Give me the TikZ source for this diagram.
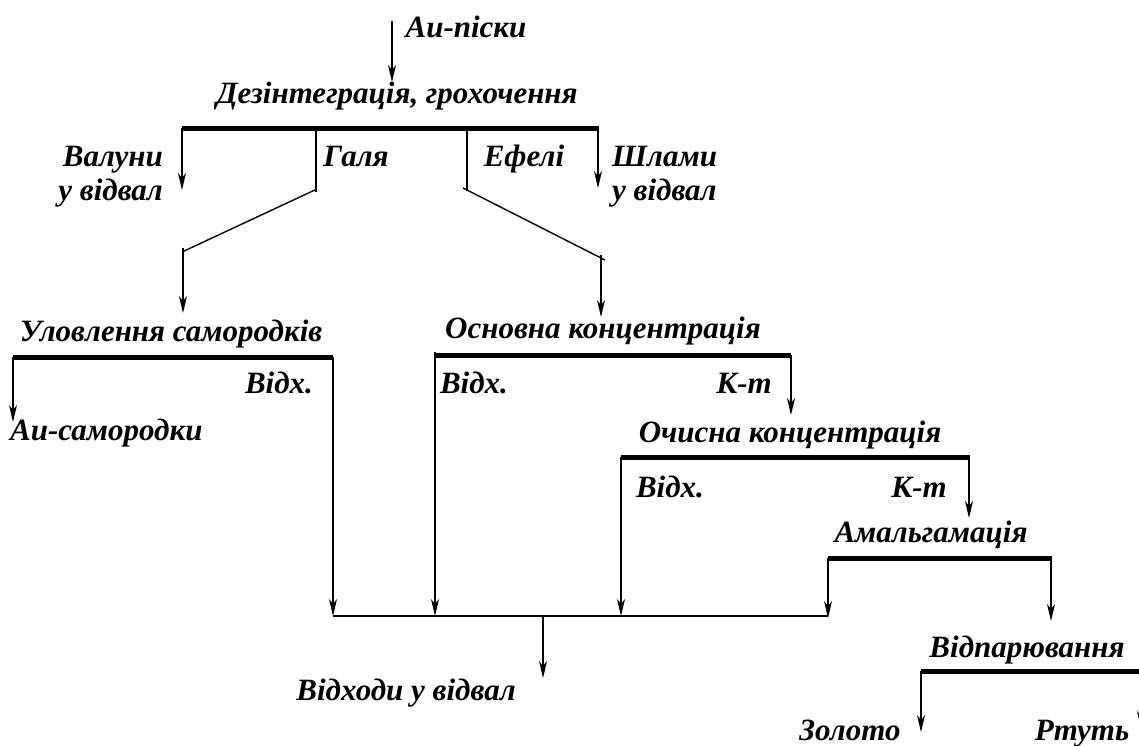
\documentclass[tikz,border=0pt]{standalone}
\usepackage{fontspec}
\setmainfont{Liberation Serif}
\usetikzlibrary{arrows.meta}
\begin{document}
\begin{tikzpicture}[x=1pt,y=-1pt,
  lbl/.style={font=\fontsize{31}{34}\selectfont\bfseries\itshape, inner sep=0pt, anchor=base},
  lblw/.style={lbl, anchor=base west},
  lble/.style={lbl, anchor=base east},
  bar/.style={line width=5pt},
  flow/.style={line width=1.4pt},
  arr/.style={flow,-{Stealth[length=17pt,width=8pt,inset=5pt]}}]
\useasboundingbox (0,0) rectangle (1139,745);

% ---- labels ----
\node[lbl] (feed) at (466,37) {Au-піски};
\node[lbl] (dez) at (397,103) {Дезінтеграція, грохочення};
\node[lble] (val1) at (163,166) {Валуни};
\node[lble] (val2) at (163,200) {у відвал};
\node[lbl] (galia) at (356,166) {Галя};
\node[lbl] (efeli) at (524,166) {Ефелі};
\node[lblw] (shl1) at (612,166) {Шлами};
\node[lblw] (shl2) at (612,200) {у відвал};
\node[lbl] (ulov) at (171,341) {Уловлення самородків};
\node[lbl] (vidh1) at (279,393) {Відх.};
\node[lblw] (nuggets) at (10,440) {Au-самородки};
\node[lbl] (osn) at (603,338) {Основна концентрація};
\node[lbl] (vidh2) at (474,393) {Відх.};
\node[lbl] (kt1) at (744,393) {К-т};
\node[lbl] (och) at (790,442) {Очисна концентрація};
\node[lbl] (vidh3) at (670,497) {Відх.};
\node[lbl] (kt2) at (919,497) {К-т};
\node[lbl] (amal) at (931,542) {Амальгамація};
\node[lbl] (tails) at (406,700) {Відходи у відвал};
\node[lbl] (vidp) at (1027,657) {Відпарювання};
\node[lbl] (gold) at (850,740) {Золото};
\node[lbl] (merc) at (1082,740) {Ртуть};

% ---- coordinates ----
\coordinate (f0) at (392,21);
\coordinate (f1) at (392,82);
% top bar
\coordinate (b1l) at (182,128);
\coordinate (b1r) at (599,128);
\coordinate (b1a) at (182,190);
\coordinate (b1b) at (598,128);
\coordinate (b1c) at (598,188);
\coordinate (g0) at (316,128);
\coordinate (g1) at (316,192);
\coordinate (g2) at (317,189);
\coordinate (g3) at (182,252);
\coordinate (g4) at (183,248);
\coordinate (g5) at (183,313);
\coordinate (e0) at (467,128);
\coordinate (e1) at (467,191);
\coordinate (e2) at (463,188);
\coordinate (e3) at (605,260);
\coordinate (e4) at (601,255);
\coordinate (e5) at (601,317);
% Ulovlennia
\coordinate (u1l) at (13,357);
\coordinate (u1r) at (333,357);
\coordinate (u1a) at (13,422);
% Osnovna
\coordinate (o1l) at (435,355);
\coordinate (o1r) at (791,355);
\coordinate (o1t) at (435,352);
\coordinate (o1a) at (791,415);
% Ochysna
\coordinate (c1l) at (621,457);
\coordinate (c1r) at (970,457);
\coordinate (c1a) at (969,518);
\coordinate (c1b) at (969,457);
% Amalgamation
\coordinate (a1l) at (828,558);
\coordinate (a1r) at (1052,558);
\coordinate (a1a) at (828,618);
\coordinate (a1b) at (1051,558);
\coordinate (a1c) at (1051,621);
% collector
\coordinate (k1) at (333,616);
\coordinate (k2) at (435,616);
\coordinate (k3) at (621,616);
\coordinate (k4) at (828,616);
\coordinate (kd) at (543,616);
\coordinate (kt) at (543,678);
% Vidparyuvannia
\coordinate (v1l) at (921,671);
\coordinate (v1r) at (1139,671);
\coordinate (v1a) at (921,732);
\coordinate (v1b) at (1141,671);
\coordinate (v1c) at (1141,728);

% ---- bars ----
\draw[bar] (b1l) -- (b1r);
\draw[bar] (u1l) -- (u1r);
\draw[bar] (o1l) -- (o1r);
\draw[bar] (c1l) -- (c1r);
\draw[bar] (a1l) -- (a1r);
\draw[bar] (v1l) -- (v1r);

% ---- flows ----
\draw[arr] (f0) -- (f1);
\draw[arr] (b1l) -- (b1a);
\draw[arr] (b1b) -- (b1c);
\draw[flow] (g0) -- (g1);
\draw[flow] (g2) -- (g3);
\draw[arr] (g4) -- (g5);
\draw[flow] (e0) -- (e1);
\draw[flow] (e2) -- (e3);
\draw[arr] (e4) -- (e5);

\draw[arr] (u1l) -- (u1a);
\draw[arr] (u1r) -- (k1);
\draw[arr] (o1t) -- (k2);
\draw[arr] (o1r) -- (o1a);
\draw[arr] (c1l) -- (k3);
\draw[arr] (c1b) -- (c1a);
\draw[arr] (a1l) -- (a1a);
\draw[arr] (a1b) -- (a1c);
\draw[flow] (k1) -- (k4);
\draw[arr] (kd) -- (kt);
\draw[arr] (v1l) -- (v1a);
\draw[arr] (v1b) -- (v1c);
\end{tikzpicture}
\end{document}
